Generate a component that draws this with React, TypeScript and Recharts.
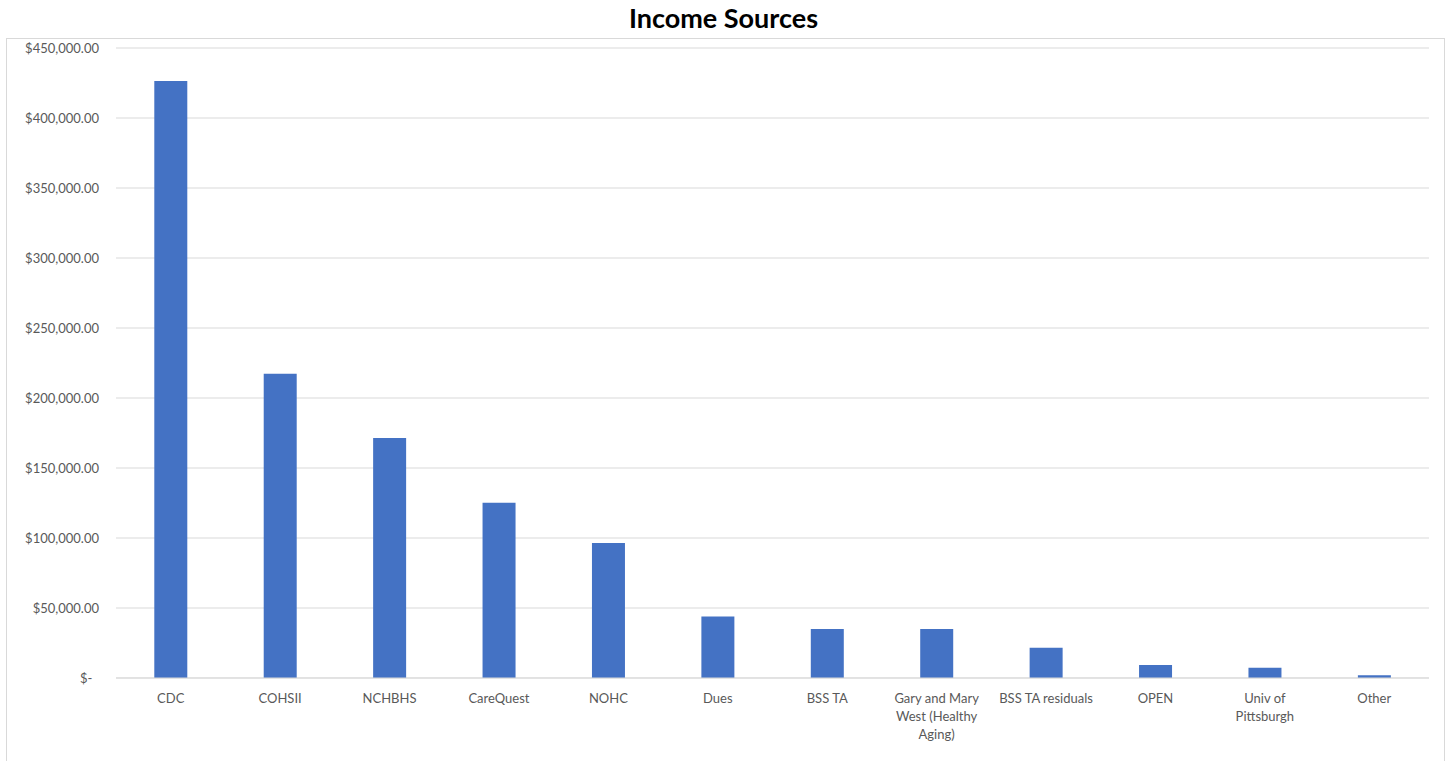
import { Bar, BarChart, CartesianGrid, Text, XAxis, YAxis } from "recharts";

const categories = [
    "CDC",
    "COHSII",
    "NCHBHS",
    "CareQuest",
    "NOHC",
    "Dues",
    "BSS TA",
    "Gary and Mary West (Healthy Aging)",
    "BSS TA residuals",
    "OPEN",
    "Univ of Pittsburgh",
    "Other",
];

const tickLines = [
    ["CDC"],
    ["COHSII"],
    ["NCHBHS"],
    ["CareQuest"],
    ["NOHC"],
    ["Dues"],
    ["BSS TA"],
    ["Gary and Mary", "West (Healthy", "Aging)"],
    ["BSS TA residuals"],
    ["OPEN"],
    ["Univ of", "Pittsburgh"],
    ["Other"],
];

const income = [426400, 217300, 171500, 125200, 96500, 44000, 35000, 35000, 21600, 9300, 7400, 1900];

const yTicks = [0, 50000, 100000, 150000, 200000, 250000, 300000, 350000, 400000, 450000];

const data = categories.map((name, i) => ({ name, total: income[i] }));

const FONT = "Lato, 'Open Sans', sans-serif";
const TEXT = "#595959";

function fmtMoney(v: number) {
    if (v === 0) return "$-\u00A0\u00A0";
    return "$" + v.toLocaleString("en-US", { minimumFractionDigits: 2, maximumFractionDigits: 2 });
}

function CategoryTick(props: any) {
    const { x, y, index } = props;
    const lines = tickLines[index] || [];
    return (
        <g>
            {lines.map((line, i) => (
                <Text
                    key={i}
                    x={x}
                    y={y + 12 + i * 18}
                    textAnchor="middle"
                    verticalAnchor="middle"
                    fontSize={13}
                    fontFamily={FONT}
                    fill={TEXT}
                >
                    {line}
                </Text>
            ))}
        </g>
    );
}

export default function App() {
    return (
        <div style={{ position: "absolute", left: 0, top: 0, width: 1447, height: 761, background: "#fff", overflow: "hidden" }}>
            <div
                style={{
                    position: "absolute",
                    left: 0,
                    width: 1447,
                    top: 1,
                    textAlign: "center",
                    fontFamily: FONT,
                    fontWeight: 700,
                    fontSize: 27,
                    color: "#000",
                }}
            >
                Income Sources
            </div>
            <div
                style={{
                    position: "absolute",
                    left: 6,
                    top: 38,
                    width: 1437,
                    height: 740,
                    border: "1px solid #d9d9d9",
                }}
            >
                <BarChart
                    width={1437}
                    height={730}
                    data={data}
                    margin={{ top: 9, right: 15, bottom: 0, left: 0 }}
                    barCategoryGap="35%"
                >
                    <CartesianGrid vertical={false} stroke="#d9d9d9" strokeWidth={1} />
                    <XAxis
                        dataKey="name"
                        axisLine={{ stroke: "#d9d9d9" }}
                        tickLine={false}
                        interval={0}
                        tick={<CategoryTick />}
                        height={91}
                    />
                    <YAxis
                        width={109}
                        domain={[0, 450000]}
                        ticks={yTicks}
                        tickFormatter={fmtMoney}
                        axisLine={false}
                        tickLine={false}
                        tickSize={0}
                        tickMargin={17}
                        tick={{ fontSize: 13, fontFamily: FONT, fill: TEXT }}
                    />
                    <Bar dataKey="total" fill="#4472C4" isAnimationActive={false} />
                </BarChart>
            </div>
        </div>
    );
}
